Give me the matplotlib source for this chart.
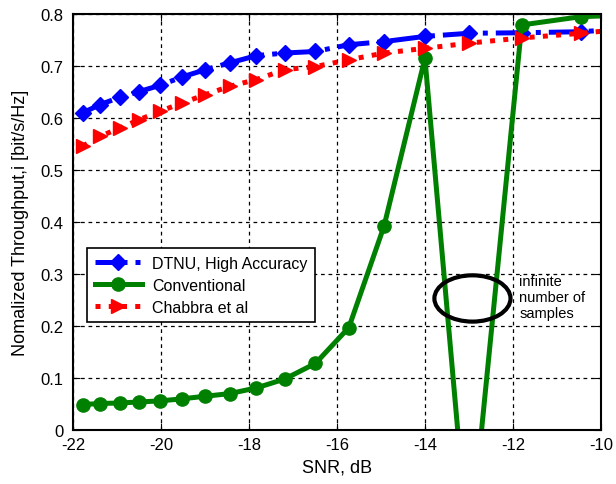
import numpy as np
import matplotlib
matplotlib.use("Agg")
import matplotlib.pyplot as plt
from matplotlib.patches import Ellipse

plt.rcParams['font.family'] = ['Liberation Sans', 'DejaVu Sans']
plt.rcParams['axes.unicode_minus'] = False

# --- data ---
snr_db = [-21.78, -21.38, -20.93, -20.49, -20.02, -19.52, -18.99, -18.44, -17.83,
          -17.19, -16.49, -15.73, -14.93, -14.0, -13.0, -11.8, -10.45, -9.0]
dtnu = [0.610, 0.626, 0.640, 0.651, 0.663, 0.679, 0.693, 0.706, 0.720,
        0.725, 0.728, 0.741, 0.747, 0.757, 0.763, 0.764, 0.766, 0.774]
conventional = [0.049, 0.051, 0.052, 0.054, 0.056, 0.060, 0.065, 0.070, 0.081,
                0.098, 0.128, 0.197, 0.392, 0.715, -0.245, 0.779, 0.795, 0.799]
chabbra = [0.546, 0.565, 0.581, 0.597, 0.613, 0.629, 0.645, 0.661, 0.674,
           0.693, 0.699, 0.712, 0.725, 0.734, 0.744, 0.754, 0.763, 0.775]

fig = plt.figure(figsize=(6.16, 4.85), dpi=100)
ax = fig.add_axes([0.1185, 0.1113, 0.857, 0.8577])

ax.plot(snr_db, dtnu, '-.', color='blue', lw=3.6, marker='D', markersize=8.5,
        label='DTNU, High Accuracy')
ax.plot(snr_db, conventional, '-', color='green', lw=3.6, marker='o', markersize=9.5,
        label='Conventional')
ax.plot(snr_db, chabbra, ':', color='red', lw=3.6, marker='>', markersize=10.5,
        label='Chabbra et al')

# ellipse marking the drop
ax.add_patch(Ellipse((-12.92, 0.253), 1.73, 0.089, fill=False, edgecolor='black',
                     lw=3, zorder=5))
ax.text(-11.86, 0.30, 'infinite\nnumber of\nsamples', fontsize=10.5,
        va='top', ha='left', linespacing=1.2)

ax.set_xlim(-22, -10)
ax.set_ylim(0, 0.8)
ax.set_xticks(np.arange(-22, -9, 2))
ax.set_yticks(np.arange(0, 0.81, 0.1))
ax.set_yticklabels(['0', '0.1', '0.2', '0.3', '0.4', '0.5', '0.6', '0.7', '0.8'])
ax.tick_params(direction='in', top=True, right=True, labelsize=12, length=5)
ax.tick_params(axis='x', pad=5)
ax.tick_params(axis='y', pad=7)
ax.grid(True, color='black', linestyle=(0, (3, 3)), linewidth=0.9)

for s in ax.spines.values():
    s.set_linewidth(1.5)

ax.set_xlabel('SNR, dB', fontsize=13, labelpad=5)
ax.set_ylabel('Nomalized Throughput,i [bit/s/Hz]', fontsize=13, labelpad=8)

leg = ax.legend(loc='lower left', bbox_to_anchor=(0.012, 0.24), fontsize=11.5,
                fancybox=False, edgecolor='black', framealpha=1,
                handlelength=3.0, handletextpad=0.6, borderpad=0.45,
                labelspacing=0.45)
leg.get_frame().set_linewidth(1.2)

fig.savefig('out.png', dpi=100)
